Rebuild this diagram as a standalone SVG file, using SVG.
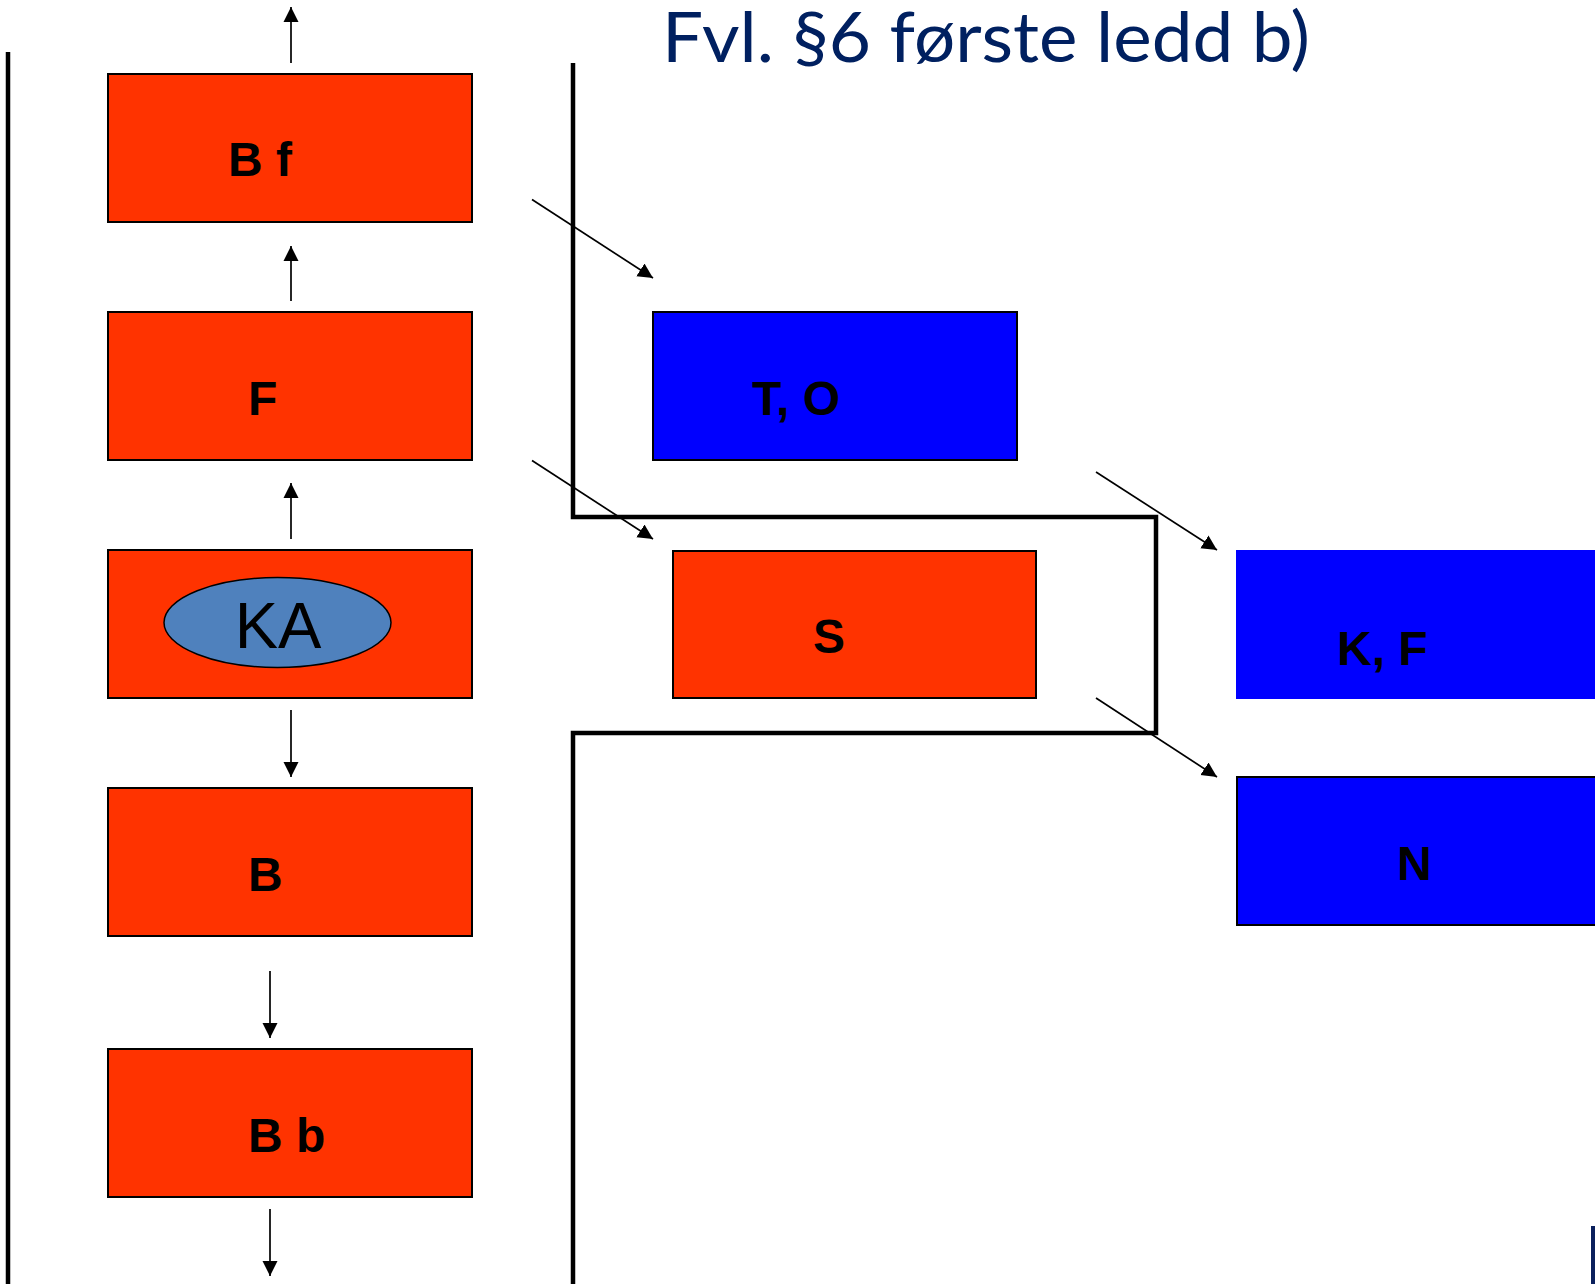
<svg xmlns="http://www.w3.org/2000/svg" width="1595" height="1284" viewBox="0 0 1595 1284">
  <style>
    .red { fill: #FF3300; stroke: #000; stroke-width: 2; }
    .blue { fill: #0000FF; stroke: #000; stroke-width: 2; }
    .lbl { font-family: "Liberation Sans", Arial, sans-serif; font-weight: bold; font-size: 48px; fill: #000; }
    .conn { stroke: #000; stroke-width: 1.7; fill: none; marker-end: url(#ah); }
    .wall { stroke: #000; stroke-width: 4.5; fill: none; stroke-linejoin: miter; }
  </style>
  <defs>
    <marker id="ah" markerUnits="userSpaceOnUse" markerWidth="16" markerHeight="16" viewBox="0 0 16 16" refX="15" refY="8" orient="auto">
      <path d="M0,0.5 L15,8 L0,15.5 z" fill="#000"/>
    </marker>
  </defs>
  <rect width="1595" height="1284" fill="#fff"/>

  <text id="title" x="662" y="62" font-family="Lato, 'Open Sans', sans-serif" font-size="69" fill="#002060" textLength="648" lengthAdjust="spacingAndGlyphs">Fvl. §6 første ledd b)</text>

  <g id="walls">
    <line class="wall" x1="8" y1="52" x2="8" y2="1284"/>
    <polyline class="wall" points="573,63 573,517 1156,517 1156,733 573,733 573,1284"/>
    <rect x="1591" y="1226" width="4" height="58" fill="#0A1F5C"/>
  </g>

  <g id="node-bf">
    <rect class="red" x="108" y="74" width="364" height="148"/>
    <text class="lbl" x="228" y="176">B f</text>
  </g>
  <g id="node-f">
    <rect class="red" x="108" y="312" width="364" height="148"/>
    <text class="lbl" x="248" y="415">F</text>
  </g>
  <g id="node-ka">
    <rect class="red" x="108" y="550" width="364" height="148"/>
    <ellipse cx="277.5" cy="622.5" rx="113.5" ry="45" fill="#4F81BD" stroke="#000" stroke-width="1.5"/>
    <text x="278" y="647.5" text-anchor="middle" font-family="Liberation Sans, Arial, sans-serif" font-size="65" fill="#000">KA</text>
  </g>
  <g id="node-b">
    <rect class="red" x="108" y="788" width="364" height="148"/>
    <text class="lbl" x="248" y="891">B</text>
  </g>
  <g id="node-bb">
    <rect class="red" x="108" y="1049" width="364" height="148"/>
    <text class="lbl" x="248" y="1152">B b</text>
  </g>
  <g id="node-to">
    <rect class="blue" x="653" y="312" width="364" height="148"/>
    <text class="lbl" x="752" y="415">T, O</text>
  </g>
  <g id="node-s">
    <rect class="red" x="673" y="551" width="363" height="147"/>
    <text class="lbl" x="813" y="653">S</text>
  </g>
  <g id="node-kf">
    <rect x="1236" y="550" width="370" height="149" fill="#0000FF"/>
    <text class="lbl" x="1337" y="665">K, F</text>
  </g>
  <g id="node-n">
    <rect class="blue" x="1237" y="777" width="370" height="148"/>
    <text class="lbl" x="1397" y="880">N</text>
  </g>

  <g id="connectors">
    <line class="conn" x1="291" y1="63" x2="291" y2="7"/>
    <line class="conn" x1="291" y1="301" x2="291" y2="246"/>
    <line class="conn" x1="291" y1="539" x2="291" y2="483"/>
    <line class="conn" x1="291" y1="710" x2="291" y2="777"/>
    <line class="conn" x1="270" y1="971" x2="270" y2="1038"/>
    <line class="conn" x1="270" y1="1209" x2="270" y2="1276"/>
    <line class="conn" x1="532" y1="199.5" x2="653" y2="278"/>
    <line class="conn" x1="532" y1="460.5" x2="653" y2="539"/>
    <line class="conn" x1="1096" y1="472" x2="1217" y2="550"/>
    <line class="conn" x1="1096" y1="698" x2="1217" y2="777"/>
  </g>
</svg>
